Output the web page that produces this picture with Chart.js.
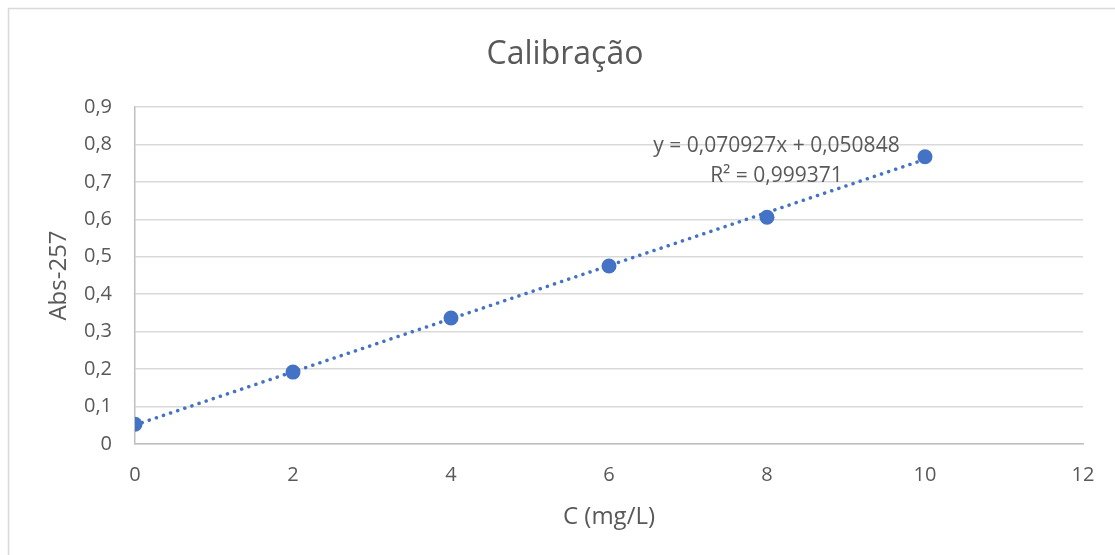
<!DOCTYPE html>
<html>
<head>
<meta charset="utf-8">
<script src="https://cdn.jsdelivr.net/npm/chart.js@4/dist/chart.umd.min.js"></script>
<style>
  html, body { margin: 0; padding: 0; background: #ffffff; }
  #wrap { position: relative; width: 1115px; height: 555px; }
</style>
</head>
<body>
<div id="wrap"><canvas id="chart" width="1115" height="555"></canvas></div>
<script>
// Calibration standards: concentration (mg/L) and absorbance at 257 nm
const concentrations = [0, 2, 4, 6, 8, 10];
const absorbance = [0.0526, 0.192, 0.3365, 0.4754, 0.6055, 0.767];

// Linear fit reported on the chart
const fitSlope = 0.070927;
const fitIntercept = 0.050848;
const fitR2 = 0.999371;
const fitRange = [0, 10];

// Axis ticks
const xTicks = [0, 2, 4, 6, 8, 10, 12];
const yTicks = [0, 0.1, 0.2, 0.3, 0.4, 0.5, 0.6, 0.7, 0.8, 0.9];

const chartTitle = 'Calibração';

const fmt = (v, d) => v.toFixed(d).replace('.', ',');
const FONT = "'Open Sans', 'Liberation Sans', sans-serif";
const TEXT = '#595959';
const GRID = '#d9d9d9';
const BLUE = '#4472C4';

const points = concentrations.map((c, i) => ({ x: c, y: absorbance[i] }));
const trend = fitRange.map(x => ({ x: x, y: fitSlope * x + fitIntercept }));

// Outer frame of the chart object and the centred title
const framePlugin = {
  id: 'frame',
  beforeDraw(chart) {
    const ctx = chart.ctx;
    ctx.save();
    ctx.fillStyle = '#ffffff';
    ctx.fillRect(0, 0, chart.width, chart.height);
    ctx.strokeStyle = '#d9d9d9';
    ctx.lineWidth = 1.5;
    ctx.beginPath();
    ctx.moveTo(8.5, chart.height);
    ctx.lineTo(8.5, 8.5);
    ctx.lineTo(chart.width, 8.5);
    ctx.stroke();
    ctx.font = "32px " + FONT;
    ctx.fillStyle = TEXT;
    ctx.textAlign = 'center';
    ctx.textBaseline = 'alphabetic';
    ctx.fillText(chartTitle, 565, 64);
    ctx.restore();
  }
};

// Trendline equation and R² label
const equationPlugin = {
  id: 'equation',
  afterDatasetsDraw(chart) {
    const ctx = chart.ctx;
    const xs = chart.scales.x, ys = chart.scales.y;
    const cx = xs.getPixelForValue(8.12);
    const y1 = ys.getPixelForValue(0.797);
    const y2 = ys.getPixelForValue(0.716);
    ctx.save();
    ctx.font = "21px " + FONT;
    ctx.fillStyle = TEXT;
    ctx.textAlign = 'center';
    ctx.textBaseline = 'middle';
    ctx.fillText('y = ' + fmt(fitSlope, 6) + 'x + ' + fmt(fitIntercept, 6), cx, y1);
    ctx.fillText('R² = ' + fmt(fitR2, 6), cx, y2);
    ctx.restore();
  }
};

new Chart(document.getElementById('chart'), {
  type: 'scatter',
  data: {
    datasets: [
      {
        label: 'Abs-257',
        data: points,
        backgroundColor: BLUE,
        borderColor: BLUE,
        pointRadius: 7.5,
        pointHoverRadius: 7.5,
        pointBorderWidth: 0
      },
      {
        label: 'Linear',
        type: 'line',
        data: trend,
        borderColor: BLUE,
        borderWidth: 3.5,
        borderDash: [0.1, 7.4],
        borderCapStyle: 'round',
        pointRadius: 0,
        fill: false,
        tension: 0
      }
    ]
  },
  options: {
    responsive: false,
    animation: false,
    events: [],
    layout: { padding: { left: 16, right: 32, top: 107, bottom: 0 } },
    plugins: {
      legend: { display: false },
      tooltip: { enabled: false },
      title: { display: false }
    },
    scales: {
      x: {
        type: 'linear',
        min: xTicks[0],
        max: xTicks[xTicks.length - 1],
        afterBuildTicks(scale) { scale.ticks = xTicks.map(v => ({ value: v })); },
        afterFit(scale) { scale.height = 111; },
        ticks: {
          color: TEXT,
          font: { family: FONT, size: 20 },
          padding: 19,
          maxRotation: 0,
          callback: v => String(v)
        },
        grid: { display: false, drawTicks: false },
        border: { display: true, color: '#bfbfbf', width: 1.5 },
        title: {
          display: true,
          text: 'C (mg/L)',
          color: TEXT,
          font: { family: FONT, size: 24 },
          padding: { top: 0, bottom: 23.6 }
        }
      },
      y: {
        type: 'linear',
        min: yTicks[0],
        max: yTicks[yTicks.length - 1],
        afterBuildTicks(scale) { scale.ticks = yTicks.map(v => ({ value: v })); },
        afterFit(scale) { scale.width = 119; },
        ticks: {
          color: TEXT,
          font: { family: FONT, size: 20 },
          padding: 23,
          callback: v => (v === 0 ? '0' : fmt(v, 1))
        },
        grid: { color: GRID, lineWidth: 1.5, drawTicks: false },
        border: { display: true, color: '#bfbfbf', width: 1.5 },
        title: {
          display: true,
          text: 'Abs-257',
          color: TEXT,
          font: { family: FONT, size: 24 },
          padding: { top: 28.6, bottom: 0 }
        }
      }
    }
  },
  plugins: [framePlugin, equationPlugin]
});
</script>
</body>
</html>
